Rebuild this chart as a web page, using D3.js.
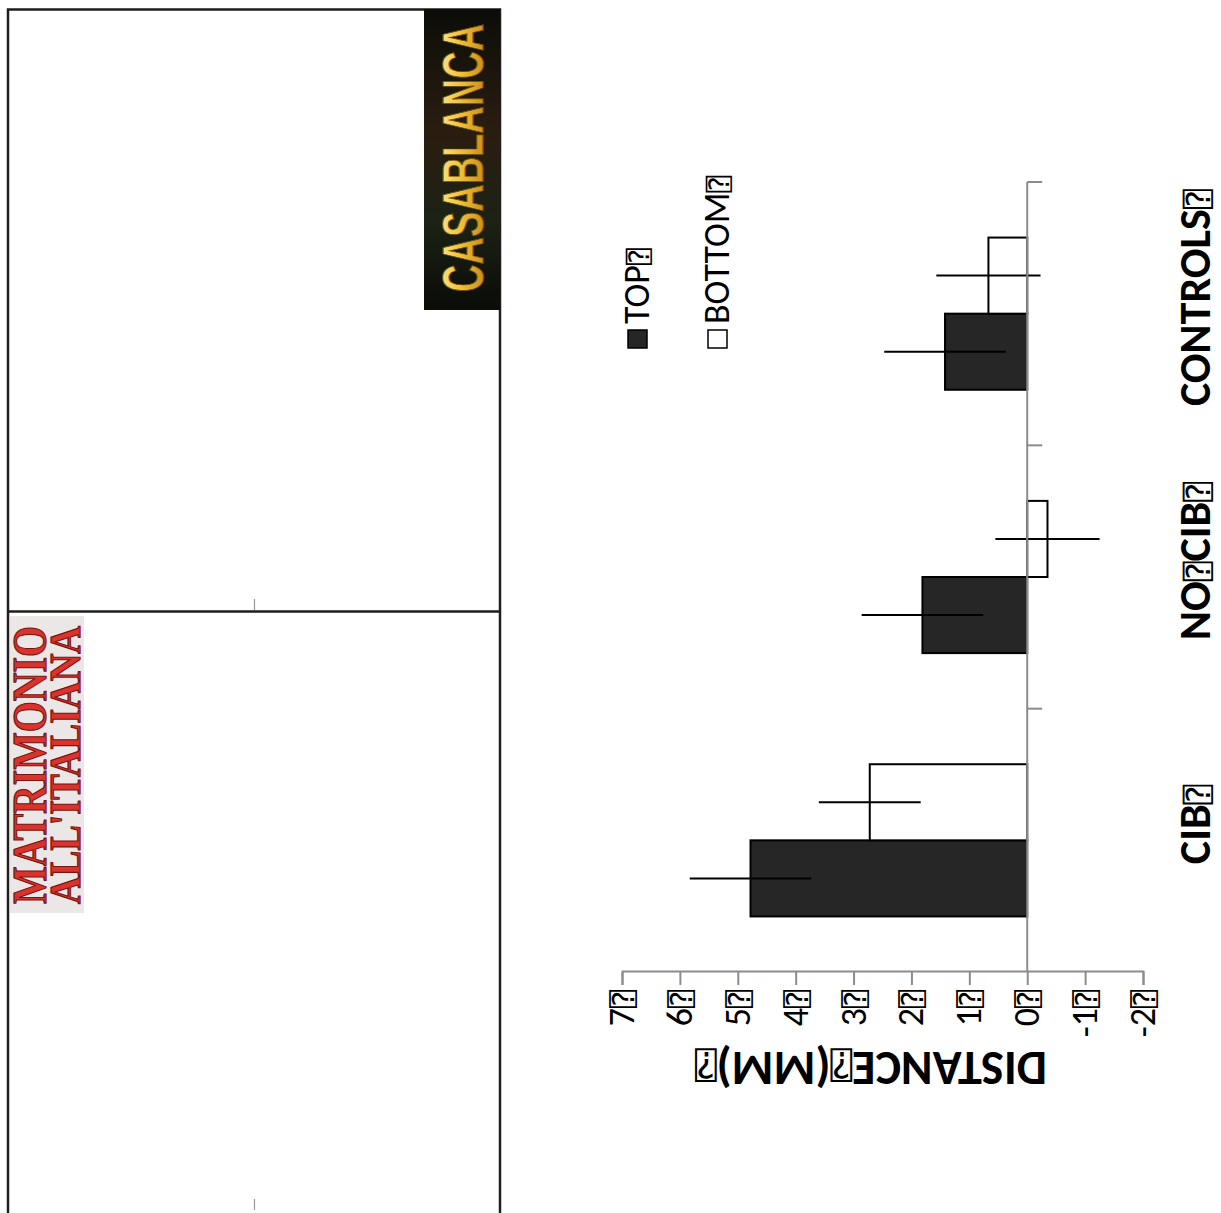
<!DOCTYPE html>
<html>
<head>
<meta charset="utf-8">
<script src="https://cdn.jsdelivr.net/npm/d3@7"></script>
<style>
  html, body { margin: 0; padding: 0; background: #fff; }
  svg { display: block; }
  .q { font-family: "DejaVu Sans Mono", "DejaVu Sans", monospace; font-weight: normal; }
</style>
</head>
<body>
<svg id="fig" width="1221" height="1213"></svg>
<script>
// Distance moved, mean and error, per group and position
const categories = ["CIB", "NO CIB", "CONTROLS"];
const series = ["TOP", "BOTTOM"];
const topValues = [4.78, 1.81, 1.42];
const topErrors = [1.05, 1.05, 1.05];
const bottomValues = [2.72, -0.35, 0.67];
const bottomErrors = [0.88, 0.90, 0.90];
const valueTicks = [7, 6, 5, 4, 3, 2, 1, 0, -1, -2];
const yTitle = "DISTANCE";
const yUnit = "(MM)";
const posterTitles = ["CASABLANCA", "MATRIMONIO", "ALL'ITALIANA"];

const Q = "\u2370";   // placeholder box glyph after each label
const FONT = "Carlito, Lato, 'Liberation Sans', sans-serif";

const svg = d3.select("#fig");

// ---------- left: film panels ----------
const panels = svg.append("g");
const defs = svg.append("defs");

const gold = defs.append("linearGradient").attr("id", "gold")
  .attr("x1", 0).attr("y1", 0).attr("x2", 0).attr("y2", 1);
gold.append("stop").attr("offset", "0%").attr("stop-color", "#fff2a8");
gold.append("stop").attr("offset", "45%").attr("stop-color", "#f2c23a");
gold.append("stop").attr("offset", "100%").attr("stop-color", "#b8780e");

const night = defs.append("linearGradient").attr("id", "night")
  .attr("x1", 0).attr("y1", 0).attr("x2", 0).attr("y2", 1);
night.append("stop").attr("offset", "0%").attr("stop-color", "#0b0d08");
night.append("stop").attr("offset", "40%").attr("stop-color", "#2a1d10");
night.append("stop").attr("offset", "70%").attr("stop-color", "#1c2214");
night.append("stop").attr("offset", "100%").attr("stop-color", "#0a0c08");

// panel frames
panels.append("path")
  .attr("d", "M8,1213 V9.5 H500 V1213 M8,611.5 H500")
  .attr("fill", "none").attr("stroke", "#1e1e1e").attr("stroke-width", 2.5);
panels.append("path")
  .attr("d", "M254.5,599 V610 M254.5,1199 V1210")
  .attr("stroke", "#999").attr("stroke-width", 1.2);

// Casablanca strip (top panel, upper right)
panels.append("rect").attr("x", 424).attr("y", 9).attr("width", 76).attr("height", 301)
  .attr("fill", "url(#night)");
panels.append("text")
  .attr("transform", "translate(483,292) rotate(-90) scale(1,1.5)")
  .attr("font-family", "'Liberation Sans', sans-serif")
  .attr("font-weight", "bold")
  .attr("font-size", 38)
  .attr("fill", "url(#gold)").attr("stroke", "#6b4a08").attr("stroke-width", 0.7)
  .text(posterTitles[0]);

// Matrimonio strip (bottom panel, upper left)
panels.append("rect").attr("x", 10).attr("y", 616).attr("width", 74).attr("height", 297)
  .attr("fill", "#ebe7e6");
panels.append("text")
  .attr("transform", "translate(46,904) rotate(-90)")
  .attr("font-family", "'Liberation Serif', serif").attr("font-weight", "bold")
  .attr("font-size", 48)
  .attr("textLength", 278).attr("lengthAdjust", "spacingAndGlyphs")
  .attr("fill", "#d8332c").attr("stroke", "#7a1410").attr("stroke-width", 1.2)
  .text(posterTitles[1]);
panels.append("text")
  .attr("transform", "translate(80,904) rotate(-90)")
  .attr("font-family", "'Liberation Serif', serif").attr("font-weight", "bold")
  .attr("font-size", 44)
  .attr("textLength", 278).attr("lengthAdjust", "spacingAndGlyphs")
  .attr("fill", "#d8332c").attr("stroke", "#7a1410").attr("stroke-width", 1.2)
  .text(posterTitles[2]);

// ---------- right: bar chart, drawn upright then turned a quarter left ----------
const W = 790, H = 521;
const chart = svg.append("g")
  .attr("transform", "translate(622,972) rotate(-90)")
  .attr("font-family", FONT);

const x = d3.scaleBand().domain(categories).range([0, W]).padding(0);
const xs = d3.scaleBand().domain(series).range([0, x.bandwidth()])
  .paddingInner(0).paddingOuter(0.73);
const y = d3.scaleLinear().domain([-2, 7]).range([H, 0]);

const rows = categories.map((c, i) => ({
  c,
  items: [
    { s: "TOP", v: topValues[i], e: topErrors[i] },
    { s: "BOTTOM", v: bottomValues[i], e: bottomErrors[i] }
  ]
}));

// value axis
const yAxis = chart.append("g")
  .call(d3.axisLeft(y).tickValues(valueTicks).tickSize(13).tickPadding(5)
    .tickFormat(d => d));
yAxis.select(".domain").attr("stroke", "#8c8c8c").attr("stroke-width", 2);
yAxis.selectAll(".tick line").attr("stroke", "#8c8c8c").attr("stroke-width", 2);
yAxis.selectAll(".tick text")
  .attr("font-family", FONT).attr("font-size", 36).attr("fill", "#000")
  .text(null)
  .call(t => t.append("tspan").text(d => d))
  .call(t => t.append("tspan").attr("class", "q").attr("font-size", 30).text(Q));

// bars
const groups = chart.selectAll(".grp").data(rows).join("g")
  .attr("class", "grp").attr("transform", d => `translate(${x(d.c)},0)`);

groups.selectAll("rect").data(d => d.items).join("rect")
  .attr("x", d => xs(d.s))
  .attr("width", xs.bandwidth())
  .attr("y", d => y(Math.max(0, d.v)))
  .attr("height", d => Math.abs(y(d.v) - y(0)))
  .attr("fill", d => d.s === "TOP" ? "#262626" : "#ffffff")
  .attr("stroke", "#000").attr("stroke-width", 2);

groups.selectAll("line.err").data(d => d.items).join("line")
  .attr("class", "err")
  .attr("x1", d => xs(d.s) + xs.bandwidth() / 2)
  .attr("x2", d => xs(d.s) + xs.bandwidth() / 2)
  .attr("y1", d => y(d.v + d.e))
  .attr("y2", d => y(d.v - d.e))
  .attr("stroke", "#000").attr("stroke-width", 2);

// category axis on the zero line, ticks between groups
const catAxis = chart.append("g").attr("transform", `translate(0,${y(0)})`);
catAxis.append("line").attr("x1", 0).attr("x2", W)
  .attr("stroke", "#8c8c8c").attr("stroke-width", 2);
catAxis.selectAll("line.tk").data(categories.map(c => x(c) + x.bandwidth()))
  .join("line").attr("class", "tk")
  .attr("x1", d => d).attr("x2", d => d).attr("y1", 0).attr("y2", 15)
  .attr("stroke", "#8c8c8c").attr("stroke-width", 2);

// category labels
chart.selectAll("text.cat").data(categories).join("text")
  .attr("class", "cat")
  .attr("x", d => x(d) + x.bandwidth() / 2 + 16)
  .attr("y", 588)
  .attr("text-anchor", "middle")
  .attr("font-weight", "bold").attr("font-size", 44)
  .each(function (d) {
    const t = d3.select(this);
    d.split(" ").forEach(p => {
      t.append("tspan").text(p);
      t.append("tspan").attr("class", "q").attr("font-size", 33).text(Q);
    });
  });

// value axis title
const title = chart.append("text")
  .attr("transform", `translate(-80,${y(2.7)}) rotate(-90)`)
  .attr("text-anchor", "middle")
  .attr("font-weight", "bold").attr("font-size", 48);
title.append("tspan").text(yTitle);
title.append("tspan").attr("class", "q").attr("font-size", 36).text(Q);
title.append("tspan").text(yUnit);
title.append("tspan").attr("class", "q").attr("font-size", 36).text(Q);

// legend
const legend = chart.append("g").attr("transform", "translate(624,0)");
const li = legend.selectAll("g").data(series).join("g")
  .attr("transform", (d, i) => `translate(0,${6 + i * 80})`);
li.append("rect").attr("width", 18).attr("height", 19)
  .attr("fill", d => d === "TOP" ? "#262626" : "#fff")
  .attr("stroke", "#000").attr("stroke-width", 1.5);
li.append("text").attr("x", 24).attr("y", 21)
  .attr("font-size", 36)
  .call(t => t.append("tspan").text(d => d))
  .call(t => t.append("tspan").attr("class", "q").attr("font-size", 28).text(Q));
</script>
</body>
</html>
